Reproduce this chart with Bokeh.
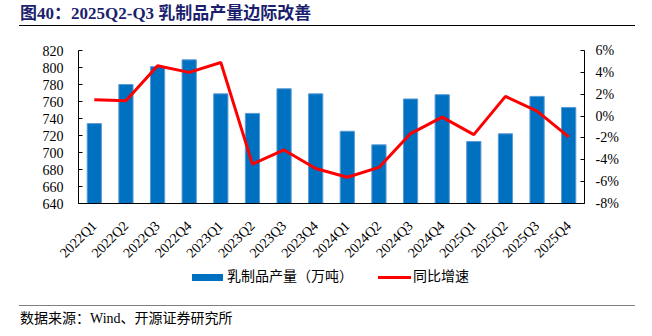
import math
from bokeh.plotting import figure
from bokeh.layouts import column
from bokeh.models import (FactorRange, Range1d, LinearAxis, FixedTicker, PrintfTickFormatter,
                          ColumnDataSource, Div)
from bokeh.embed import file_html
from bokeh.resources import INLINE

# ---- data ----
quarters = ["2022Q1", "2022Q2", "2022Q3", "2022Q4", "2023Q1", "2023Q2", "2023Q3", "2023Q4",
            "2024Q1", "2024Q2", "2024Q3", "2024Q4", "2025Q1", "2025Q2", "2025Q3", "2025Q4"]
output = [734, 780, 801, 809, 769, 746, 775, 769, 725, 709, 763, 768, 713, 722, 766, 753]
yoy = [1.5, 1.4, 4.6, 4.0, 4.9, -4.4, -3.1, -4.8, -5.6, -4.7, -1.6, -0.1, -1.7, 1.8, 0.45, -1.9]
left_ticks = [640, 660, 680, 700, 720, 740, 760, 780, 800, 820]
right_ticks = [-8, -6, -4, -2, 0, 2, 4, 6]

title_text = "图40：2025Q2-Q3 乳制品产量边际改善"
source_text = "数据来源：Wind、开源证券研究所"
bar_label = "乳制品产量（万吨）"
line_label = "同比增速"

BAR_COLOR = "#0070C0"
LINE_COLOR = "#FF0000"
NUM_FONT = "Liberation Serif"
CSS_FONT = "'Liberation Serif', 'Noto Sans CJK SC', serif"

src = ColumnDataSource(dict(q=quarters, v=output, r=yoy))

p = figure(frame_width=506, frame_height=153,
           x_range=FactorRange(*quarters, range_padding=0),
           y_range=Range1d(640, 820),
           output_backend="svg", toolbar_location=None,
           min_border_left=78, min_border_right=68, min_border_top=13, min_border_bottom=67)
p.extra_y_ranges = {"yoy": Range1d(-8, 6)}
p.outline_line_color = None
p.xgrid.visible = False
p.ygrid.visible = False
p.background_fill_color = "white"
p.border_fill_color = "white"

bars = p.vbar(x="q", top="v", bottom=640, width=0.45, source=src,
              fill_color=BAR_COLOR, line_color="#5B9BD5", line_width=1)
line = p.line(x="q", y="r", y_range_name="yoy", source=src,
              line_color=LINE_COLOR, line_width=3)

# axes
p.yaxis.ticker = FixedTicker(ticks=left_ticks)
right_axis = LinearAxis(y_range_name="yoy", ticker=FixedTicker(ticks=right_ticks),
                        formatter=PrintfTickFormatter(format="%d%%"))
p.add_layout(right_axis, "right")

for ax in [p.yaxis[0], right_axis]:
    ax.axis_line_color = "black"
    ax.major_tick_line_color = "black"
    ax.major_tick_in = 4
    ax.major_tick_out = 0
    ax.minor_tick_line_color = None
    ax.major_label_text_font = NUM_FONT
    ax.major_label_text_font_size = "14px"
    ax.major_label_text_color = "black"
p.yaxis[0].major_label_standoff = 15
right_axis.major_label_standoff = 11

xa = p.xaxis[0]
xa.axis_line_color = "black"
xa.major_tick_in = 0
xa.major_tick_out = 0
xa.major_tick_line_color = None
xa.major_label_orientation = math.pi / 4
xa.major_label_text_font = NUM_FONT
xa.major_label_text_font_size = "14px"
xa.major_label_text_color = "black"
xa.major_label_standoff = 20


def abs_el(left, top, style, content=""):
    return (f'<div style="position:absolute;left:{left}px;top:{top}px;{style}">'
            f'{content}</div>')


TXT = f"white-space:nowrap;font-family:{CSS_FONT};"

top = Div(width=652, height=37, margin=(0, 0, 0, 0), text=(
    '<div style="position:relative;width:652px;height:37px;">'
    + abs_el(20, 4, TXT + "line-height:20px;font-size:17px;font-weight:bold;color:#1B1F6E;",
             title_text)
    + abs_el(19, 25, "width:616px;height:0;border-top:1.5px solid #000;")
    + '</div>'))

bottom = Div(width=652, height=66, margin=(0, 0, 0, 0), text=(
    '<div style="position:relative;width:652px;height:66px;">'
    + abs_el(192, 4, f"width:31px;height:7px;background:{BAR_COLOR};")
    + abs_el(227, 0, TXT + "line-height:14px;font-size:14px;color:#000;", bar_label)
    + abs_el(378, 6, f"width:33px;height:3px;background:{LINE_COLOR};")
    + abs_el(413, 0, TXT + "line-height:14px;font-size:14px;color:#000;", line_label)
    + abs_el(19, 35, "width:616px;height:0;border-top:1px solid #808080;")
    + abs_el(20, 40, TXT + "line-height:18px;font-size:14px;color:#000;", source_text)
    + '</div>'))

layout = column(top, p, bottom, spacing=0)
open("out.html", "w").write(file_html(layout, INLINE))
